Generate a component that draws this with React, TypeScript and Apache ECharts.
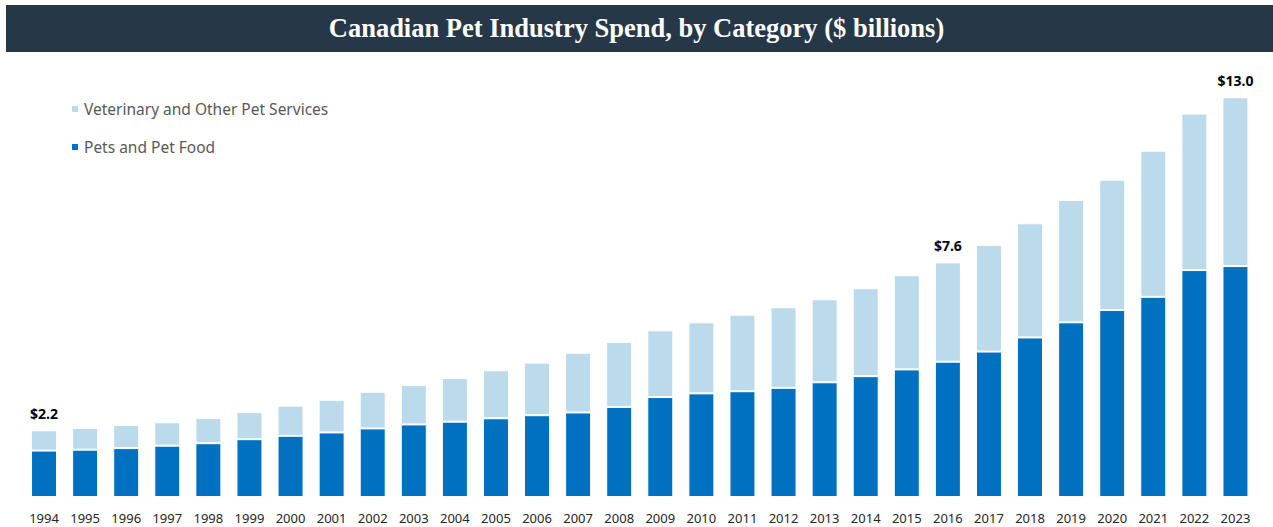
import React, { useEffect, useRef } from "react";
import * as echarts from "echarts";

const years = [
  "1994", "1995", "1996", "1997", "1998", "1999", "2000", "2001", "2002", "2003",
  "2004", "2005", "2006", "2007", "2008", "2009", "2010", "2011", "2012", "2013",
  "2014", "2015", "2016", "2017", "2018", "2019", "2020", "2021", "2022", "2023",
];

const petsAndFood = [
  1.51, 1.54, 1.59, 1.67, 1.75, 1.88, 1.99, 2.1, 2.23, 2.36,
  2.45, 2.56, 2.66, 2.75, 2.93, 3.25, 3.37, 3.44, 3.55, 3.73,
  3.93, 4.15, 4.4, 4.73, 5.19, 5.68, 6.08, 6.51, 7.38, 7.51,
];

const vetServices = [
  0.66, 0.71, 0.75, 0.76, 0.82, 0.88, 0.98, 1.06, 1.19, 1.28,
  1.42, 1.56, 1.71, 1.94, 2.11, 2.17, 2.31, 2.49, 2.62, 2.7,
  2.86, 3.06, 3.23, 3.47, 3.71, 3.98, 4.24, 4.75, 5.09, 5.49,
];

const labeledYears = ["1994", "2016", "2023"];

const DARK = "#0070C0";
const LIGHT = "#BBDAEC";

export default function App() {
  const ref = useRef<HTMLDivElement>(null);

  useEffect(() => {
    if (!ref.current) return;
    const chart = echarts.init(ref.current, undefined, { renderer: "svg" });
    const totals = years.map((_, i) => petsAndFood[i] + vetServices[i]);
    chart.setOption({
      animation: false,
      backgroundColor: "#ffffff",
      title: {
        text: "Canadian Pet Industry Spend, by Category ($ billions)",
        left: "center",
        top: 13,
        padding: 0,
        textStyle: {
          color: "#ffffff",
          fontFamily: "'Liberation Serif', 'Times New Roman', serif",
          fontWeight: "bold",
          fontSize: 26.5,
          lineHeight: 30,
        },
      },
      graphic: [
        {
          type: "rect",
          z: -10,
          shape: { x: 6, y: 5, width: 1267, height: 47 },
          style: { fill: "#263747" },
        },
      ],
      legend: {
        orient: "vertical",
        left: 70,
        top: 101,
        padding: 0,
        itemWidth: 8,
        itemHeight: 8,
        itemGap: 22,
        icon: "rect",
        data: ["Veterinary and Other Pet Services", "Pets and Pet Food"],
        textStyle: {
          color: "#595959",
          fontSize: 15.5,
          fontFamily: "'Noto Sans', sans-serif",
          padding: [0, 0, 0, 0],
        },
      },
      grid: { left: 23.5, right: 17, top: 66.5, bottom: 30, containLabel: false },
      xAxis: {
        type: "category",
        data: years,
        axisLine: { show: false },
        axisTick: { show: false },
        axisLabel: {
          color: "#262626",
          fontSize: 13,
          fontFamily: "'Noto Sans', sans-serif",
          margin: 14,
          interval: 0,
        },
      },
      yAxis: {
        type: "value",
        min: 0,
        max: 14,
        show: false,
        splitLine: { show: false },
      },
      series: [
        {
          name: "Pets and Pet Food",
          type: "bar",
          stack: "total",
          barWidth: 26,
          data: petsAndFood,
          itemStyle: { color: DARK, borderColor: "#ffffff", borderWidth: 1 },
        },
        {
          name: "Veterinary and Other Pet Services",
          type: "bar",
          stack: "total",
          barWidth: 26,
          data: vetServices.map((v, i) => ({
            value: v,
            label: {
              show: labeledYears.includes(years[i]),
              position: "top",
              distance: 10,
              formatter: () => "$" + totals[i].toFixed(1),
              color: "#000000",
              fontWeight: "bold",
              fontSize: 14,
              fontFamily: "'Noto Sans', sans-serif",
            },
          })),
          itemStyle: { color: LIGHT, borderColor: "#ffffff", borderWidth: 1 },
        },
      ],
    });
    return () => chart.dispose();
  }, []);

  return (
    <div
      ref={ref}
      style={{ position: "fixed", left: 0, top: 0, width: 1273, height: 527 }}
    />
  );
}
